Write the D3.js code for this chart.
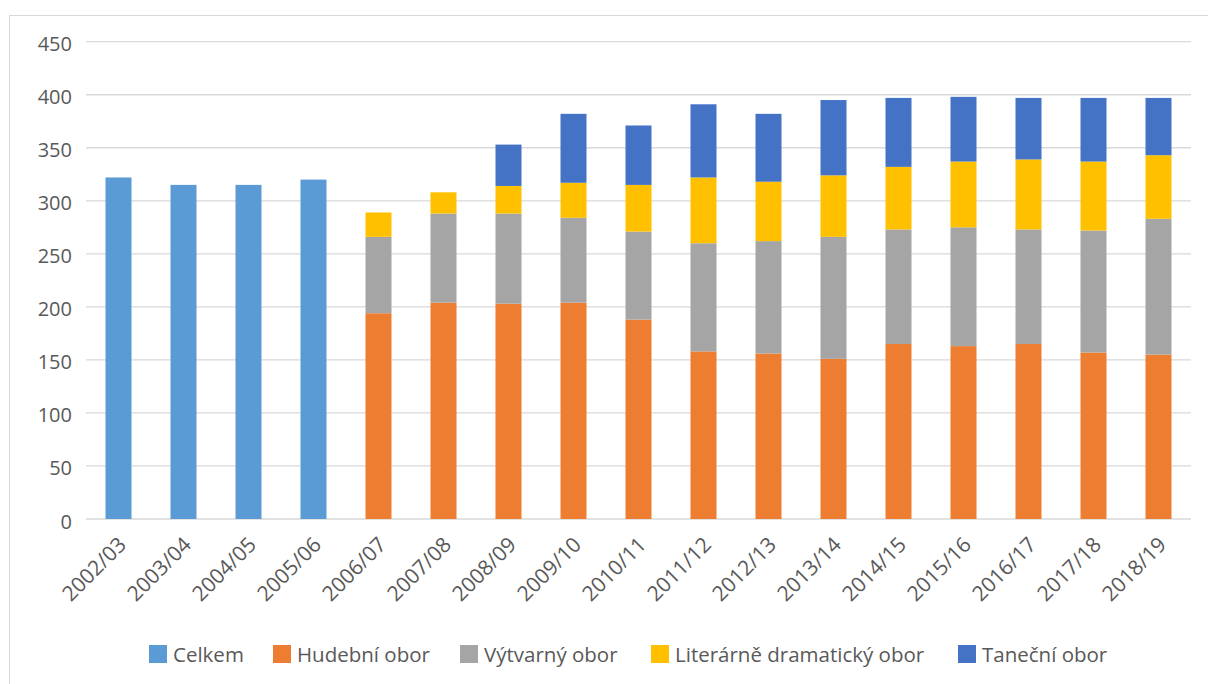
<!DOCTYPE html>
<html>
<head>
<meta charset="utf-8">
<script src="https://cdn.jsdelivr.net/npm/d3@7"></script>
<style>
  body { margin: 0; background: #fff; }
  text { font-family: "Open Sans", "Noto Sans", sans-serif; fill: #595959; }
</style>
</head>
<body>
<script>
var svgWidth = 1208;
var svgHeight = 684;

// data
var years = ["2002/03", "2003/04", "2004/05", "2005/06", "2006/07", "2007/08", "2008/09",
  "2009/10", "2010/11", "2011/12", "2012/13", "2013/14", "2014/15", "2015/16",
  "2016/17", "2017/18", "2018/19"];
var celkem   = [322, 315, 315, 320, 0, 0, 0, 0, 0, 0, 0, 0, 0, 0, 0, 0, 0];
var hudebni  = [0, 0, 0, 0, 194, 204, 203, 204, 188, 158, 156, 151, 165, 163, 165, 157, 155];
var vytvarny = [0, 0, 0, 0, 72, 84, 85, 80, 83, 102, 106, 115, 108, 112, 108, 115, 128];
var literarni = [0, 0, 0, 0, 23, 20, 26, 33, 44, 62, 56, 58, 59, 62, 66, 65, 60];
var tanecni  = [0, 0, 0, 0, 0, 0, 39, 65, 56, 69, 64, 71, 65, 61, 58, 60, 54];
var yTicks = [0, 50, 100, 150, 200, 250, 300, 350, 400, 450];

var seriesNames = ["Celkem", "Hudební obor", "Výtvarný obor", "Literárně dramatický obor", "Taneční obor"];
var seriesKeys = ["celkem", "hudebni", "vytvarny", "literarni", "tanecni"];
var colors = ["#5b9bd5", "#ed7d31", "#a5a5a5", "#ffc000", "#4472c4"];

var margin = { top: 41.7, left: 86, right: 17, bottom: 165 };
var width = svgWidth - margin.left - margin.right;
var height = 519 - margin.top;

var svg = d3.select("body").append("svg")
  .attr("width", svgWidth)
  .attr("height", svgHeight);

// chart frame
svg.append("rect")
  .attr("x", 9.5).attr("y", 15.5)
  .attr("width", 1250).attr("height", 700)
  .attr("fill", "none")
  .attr("stroke", "#d9d9d9")
  .attr("stroke-width", 1);

var chartGroup = svg.append("g")
  .attr("transform", `translate(${margin.left}, ${margin.top})`);

var rows = years.map(function(y, i) {
  return { year: y, celkem: celkem[i], hudebni: hudebni[i], vytvarny: vytvarny[i],
    literarni: literarni[i], tanecni: tanecni[i] };
});

var xScale = d3.scaleBand()
  .domain(years)
  .range([0, width])
  .paddingInner(0.6)
  .paddingOuter(0.3);

var yScale = d3.scaleLinear()
  .domain([0, 450])
  .range([height, 0]);

// gridlines
chartGroup.append("g")
  .selectAll("line")
  .data(yTicks)
  .enter()
  .append("line")
  .attr("x1", 0)
  .attr("x2", width)
  .attr("y1", d => yScale(d))
  .attr("y2", d => yScale(d))
  .attr("stroke", "#d9d9d9")
  .attr("stroke-width", 1.3);

// y axis labels
var leftAxis = d3.axisLeft(yScale).tickValues(yTicks).tickSize(0).tickPadding(14);
var yAxis = chartGroup.append("g").call(leftAxis);
yAxis.select(".domain").remove();
yAxis.selectAll("text")
  .attr("font-size", "20px")
  .attr("fill", "#595959")
  .attr("font-family", null)
  .attr("dy", "0.45em");

// stacked bars
var stacked = d3.stack().keys(seriesKeys)(rows);

chartGroup.selectAll(".series")
  .data(stacked)
  .enter()
  .append("g")
  .attr("fill", (d, i) => colors[i])
  .selectAll("rect")
  .data(d => d.filter(p => p[1] - p[0] > 0))
  .enter()
  .append("rect")
  .attr("x", d => xScale(d.data.year))
  .attr("width", xScale.bandwidth())
  .attr("y", d => yScale(d[1]))
  .attr("height", d => yScale(d[0]) - yScale(d[1]));

// x axis labels
var bottomAxis = d3.axisBottom(xScale).tickSize(0).tickPadding(0);
var xAxis = chartGroup.append("g")
  .attr("transform", `translate(0, ${height})`)
  .call(bottomAxis);
xAxis.select(".domain").remove();
xAxis.selectAll("text")
  .attr("font-size", "21px")
  .attr("font-family", null)
  .attr("fill", "#595959")
  .attr("text-anchor", "end")
  .attr("dy", null)
  .attr("y", 0)
  .attr("transform", "translate(9, 27) rotate(-45)");

// legend
var legendX = [149, 273, 460, 651, 958];
var legend = svg.append("g");
var items = legend.selectAll("g")
  .data(seriesNames)
  .enter()
  .append("g")
  .attr("transform", (d, i) => `translate(${legendX[i]}, 645)`);
items.append("rect")
  .attr("width", 18)
  .attr("height", 18)
  .attr("fill", (d, i) => colors[i]);
items.append("text")
  .attr("x", 24)
  .attr("y", 17)
  .attr("font-size", "20.5px")
  .text(d => d);
</script>
</body>
</html>
